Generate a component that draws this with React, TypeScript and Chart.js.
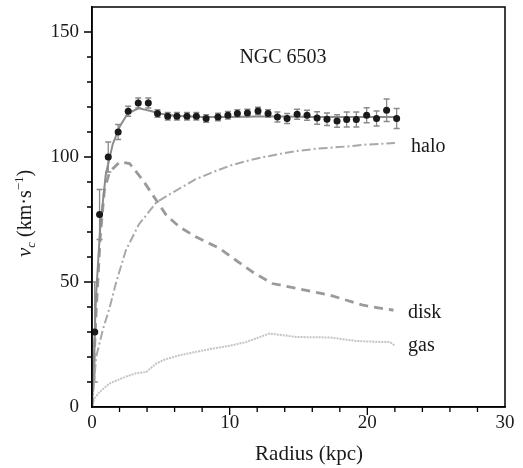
import React, { useEffect, useRef } from 'react';
import { Chart, registerables } from 'chart.js';
Chart.register(...registerables);

// Observed rotation curve
const obsR = [0.2, 0.55, 1.18, 1.9, 2.63, 3.36, 4.09, 4.76, 5.5, 6.17, 6.9, 7.58, 8.29, 9.15, 9.87, 10.56, 11.29, 12.06, 12.79, 13.47, 14.17, 14.9, 15.62, 16.35, 17.07, 17.8, 18.5, 19.2, 19.95, 20.67, 21.4, 22.13];
const obsV = [30, 77, 100, 110, 118.3, 121.6, 121.6, 117.4, 116.3, 116.3, 116.3, 116.3, 115.4, 116, 116.7, 117.4, 117.6, 118.4, 117.4, 116, 115.4, 117.1, 116.7, 115.6, 115.1, 114.4, 115, 115, 116.7, 115.4, 118.7, 115.4];
const obsErr = [20, 10, 6, 3, 2, 2, 2, 1.5, 1.5, 1.5, 1.5, 1.5, 1.5, 1.5, 1.5, 1.5, 1.5, 1.5, 1.5, 2, 2, 2, 2, 2.5, 2.5, 2.5, 3, 3, 3, 3, 4.5, 4];

// Total model
const totalR = [0, 0.3, 0.6, 1.0, 1.5, 2.0, 2.6, 3.4, 4.2, 5.0, 6.0, 8, 10, 12, 14, 16, 18, 20, 22];
const totalV = [0, 45, 72, 93, 105, 112, 117.5, 119.5, 118.5, 117.3, 116.5, 116, 116, 116.2, 116.2, 116, 116, 116, 116];

// Halo component
const haloR = [0, 0.3, 0.79, 1.27, 1.76, 2.46, 3.4, 4.7, 6.36, 7.5, 8.8, 10, 11.3, 12.5, 13.8, 15, 16.3, 17.5, 18.7, 20, 22];
const haloV = [0, 20, 31, 39.5, 50, 62.7, 73, 82, 87.4, 91, 94, 96.5, 98.5, 100, 101.4, 102.5, 103.3, 103.8, 104.3, 105, 105.6];

// Disk component
const diskR = [0, 0.3, 0.6, 0.9, 1.27, 2.0, 2.73, 3.7, 4.67, 5.4, 6.36, 7.58, 9.27, 10.5, 11.8, 13.1, 14.9, 17.3, 19.7, 21.9];
const diskV = [0, 38, 68, 86.7, 94, 98, 97.4, 90.7, 82.7, 76.7, 72, 68, 63.4, 58.5, 53.5, 49.4, 47.4, 44.7, 40.7, 38.7];

// Gas component
const gasR = [0, 0.16, 0.55, 1.27, 2.49, 3.2, 3.94, 4.67, 5.3, 6.36, 7.5, 8.79, 10, 11.2, 12.9, 14.85, 17.3, 19.2, 21.1, 21.6, 22];
const gasV = [0, 3.4, 6, 9.4, 12.2, 13.5, 14, 17.4, 19, 20.7, 22, 23.4, 24.5, 26, 29.4, 28, 27.8, 26.4, 26, 26, 24.7];

const xTicksMajor = [0, 10, 20, 30];
const yTicksMajor = [0, 50, 100, 150];

const title = 'NGC 6503';
const xTitle = 'Radius (kpc)';
const componentLabels = ['halo', 'disk', 'gas'];

const SERIF = '"Liberation Serif", "Times New Roman", serif';

const pts = (xs: number[], ys: number[]) => xs.map((x, i) => ({ x, y: ys[i] }));

export default function App() {
  const ref = useRef<HTMLCanvasElement>(null);
  useEffect(() => {
    const canvas = ref.current!;
    const decor = {
      id: 'decor',
      beforeDatasetsDraw(chart: any) {
        const { ctx, scales } = chart;
        const xs = scales.x, ys = scales.y;
        ctx.save();
        ctx.strokeStyle = '#8a8a8a';
        ctx.lineWidth = 1.3;
        obsR.forEach((r, i) => {
          const px = xs.getPixelForValue(r);
          const top = ys.getPixelForValue(obsV[i] + obsErr[i]);
          const bot = ys.getPixelForValue(Math.max(0, obsV[i] - obsErr[i]));
          ctx.beginPath();
          ctx.moveTo(px, top); ctx.lineTo(px, bot);
          ctx.moveTo(px - 3, top); ctx.lineTo(px + 3, top);
          ctx.moveTo(px - 3, bot); ctx.lineTo(px + 3, bot);
          ctx.stroke();
        });
        ctx.restore();
      },
      afterDraw(chart: any) {
        const { ctx, chartArea, scales } = chart;
        const xs = scales.x, ys = scales.y;
        ctx.save();
        // frame
        ctx.strokeStyle = '#000';
        ctx.lineWidth = 1.5;
        ctx.strokeRect(chartArea.left, chartArea.top, chartArea.right - chartArea.left, chartArea.bottom - chartArea.top);
        // ticks
        ctx.lineWidth = 1.3;
        ctx.beginPath();
        xs.ticks.forEach((t: any) => {
          if (t.value <= xs.min || t.value >= xs.max) return;
          const px = xs.getPixelForValue(t.value);
          const len = xTicksMajor.includes(t.value) ? 8 : 5;
          ctx.moveTo(px, chartArea.bottom);
          ctx.lineTo(px, chartArea.bottom + len);
        });
        ys.ticks.forEach((t: any) => {
          if (t.value <= ys.min || t.value >= ys.max) return;
          const py = ys.getPixelForValue(t.value);
          const len = yTicksMajor.includes(t.value) ? 8 : 5;
          ctx.moveTo(chartArea.left, py);
          ctx.lineTo(chartArea.left - len, py);
        });
        ctx.stroke();

        ctx.fillStyle = '#1a1a1a';
        ctx.font = `20px ${SERIF}`;
        ctx.textAlign = 'center';
        ctx.textBaseline = 'middle';
        ctx.fillText(title, 283, 58);

        ctx.textAlign = 'left';
        ctx.textBaseline = 'alphabetic';
        ctx.fillText(componentLabels[0], 411, 152);
        ctx.fillText(componentLabels[1], 408, 317.5);
        ctx.fillText(componentLabels[2], 408, 351);

        ctx.font = `21px ${SERIF}`;
        ctx.textAlign = 'center';
        ctx.fillText(xTitle, 309, 460);

        // y-axis title: v_c (km·s^-1)
        ctx.translate(31, 257);
        ctx.rotate(-Math.PI / 2);
        ctx.textAlign = 'left';
        let x = 0;
        ctx.font = `italic 21px ${SERIF}`;
        ctx.fillText('v', x, 0);
        x += ctx.measureText('v').width;
        ctx.font = `italic 13px ${SERIF}`;
        ctx.fillText('c', x, 4);
        x += ctx.measureText('c').width;
        ctx.font = `20px ${SERIF}`;
        ctx.fillText(' (km·s', x, 0);
        x += ctx.measureText(' (km·s').width;
        ctx.font = `13px ${SERIF}`;
        ctx.fillText('\u22121', x, -8);
        x += ctx.measureText('\u22121').width;
        ctx.font = `20px ${SERIF}`;
        ctx.fillText(')', x, 0);
        ctx.restore();
      },
    };

    const chart = new Chart(canvas, {
      type: 'scatter',
      data: {
        datasets: [
          {
            label: 'observed',
            data: pts(obsR, obsV),
            showLine: false,
            pointRadius: 3.5,
            pointBackgroundColor: '#1a1a1a',
            pointBorderColor: '#1a1a1a',
            pointBorderWidth: 0,
          },
          {
            label: 'total',
            data: pts(totalR, totalV),
            showLine: true,
            borderColor: '#8c8c8c',
            borderWidth: 2,
            pointRadius: 0,
            tension: 0,
          },
          {
            label: 'halo',
            data: pts(haloR, haloV),
            showLine: true,
            borderColor: '#a8a8a8',
            borderWidth: 2,
            borderDash: [9, 3, 2, 3],
            pointRadius: 0,
            tension: 0,
          },
          {
            label: 'disk',
            data: pts(diskR, diskV),
            showLine: true,
            borderColor: '#9a9a9a',
            borderWidth: 2.8,
            borderDash: [9, 6],
            pointRadius: 0,
            tension: 0,
          },
          {
            label: 'gas',
            data: pts(gasR, gasV),
            showLine: true,
            borderColor: '#c4c4c4',
            borderWidth: 2,
            borderDash: [2, 1],
            pointRadius: 0,
            tension: 0,
          },
        ],
      },
      options: {
        animation: false,
        responsive: false,
        layout: { padding: { top: 7, right: 18, left: 0, bottom: 0 } },
        plugins: { legend: { display: false }, tooltip: { enabled: false } },
        scales: {
          x: {
            type: 'linear',
            min: 0,
            max: 30,
            afterFit: (s: any) => { s.height = 61; s.paddingLeft = 0; s.paddingRight = 0; },
            grid: { display: true, drawOnChartArea: false, drawTicks: false },
            border: { display: true, color: '#000', width: 1.5 },
            ticks: {
              stepSize: 2,
              autoSkip: false,
              maxRotation: 0,
              padding: 5,
              color: '#1a1a1a',
              font: { family: SERIF, size: 19 },
              callback: (v: any) => (xTicksMajor.includes(Number(v)) ? String(v) : ''),
            },
          },
          y: {
            type: 'linear',
            min: 0,
            max: 160,
            afterFit: (s: any) => { s.width = 92; s.paddingTop = 0; s.paddingBottom = 0; },
            grid: { display: true, drawOnChartArea: false, drawTicks: false },
            border: { display: true, color: '#000', width: 1.5 },
            ticks: {
              stepSize: 10,
              autoSkip: false,
              padding: 13,
              color: '#1a1a1a',
              font: { family: SERIF, size: 19 },
              callback: (v: any) => (yTicksMajor.includes(Number(v)) ? String(v) : ''),
            },
          },
        },
      },
      plugins: [decor],
    });
    return () => chart.destroy();
  }, []);

  return (
    <div style={{ position: 'absolute', left: 0, top: 0, width: 523, height: 468, background: '#fff' }}>
      <canvas ref={ref} width={523} height={468} style={{ display: 'block' }} />
    </div>
  );
}
